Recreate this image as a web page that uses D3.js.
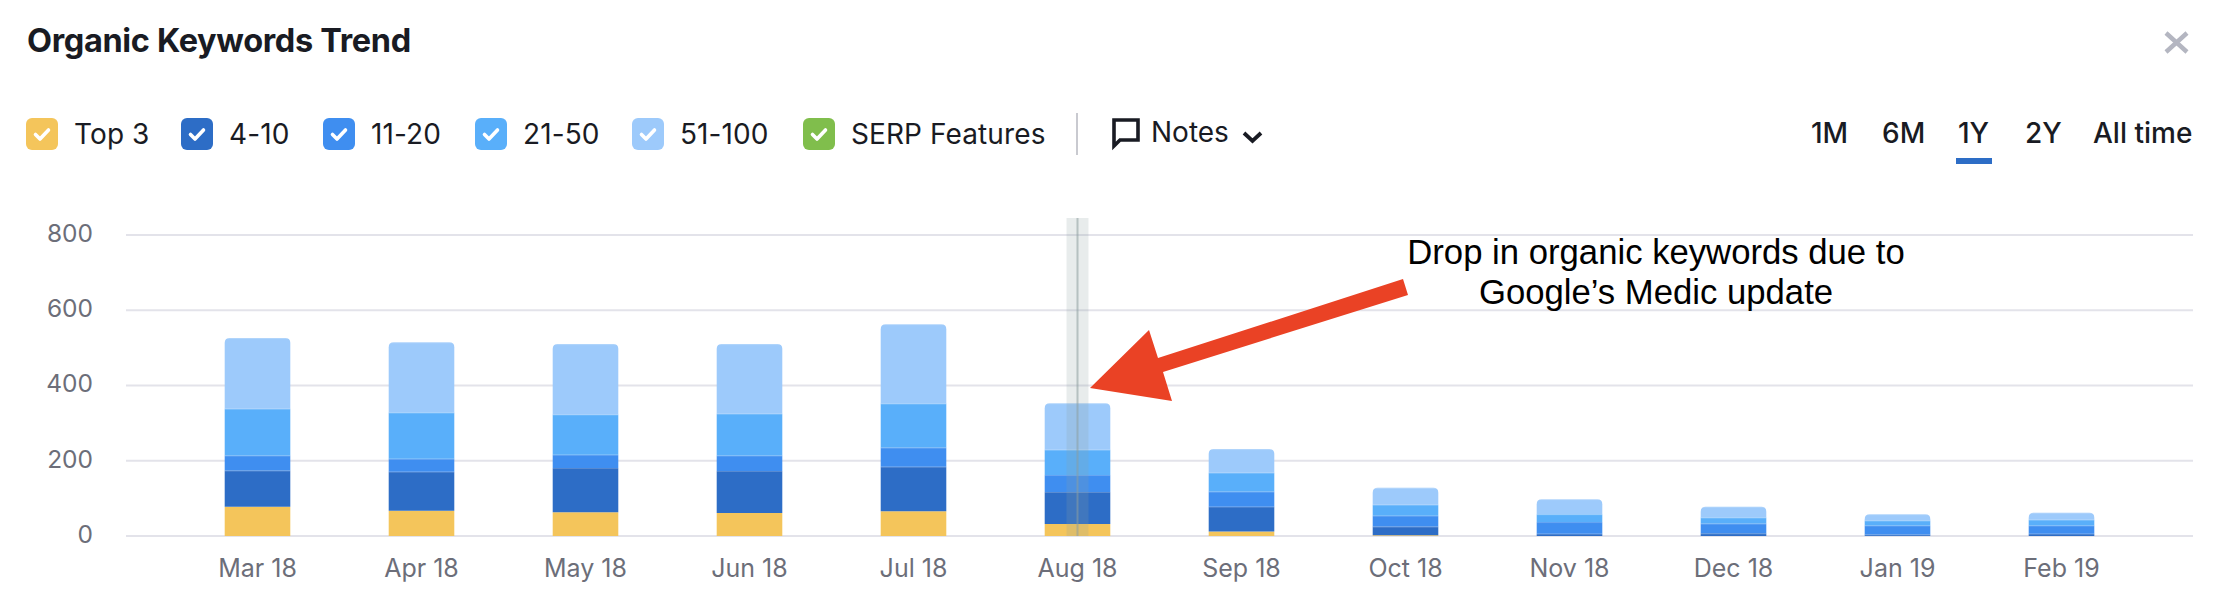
<!DOCTYPE html>
<html><head><meta charset="utf-8">
<script src="https://d3js.org/d3.v7.min.js"></script>
<style>
html,body{margin:0;padding:0;background:#fff}
svg{display:block}
text{font-family:Inter,"Noto Sans",sans-serif}
</style></head><body>
<svg id="c" width="2216" height="606"></svg>
<script>
const months = ["Mar 18","Apr 18","May 18","Jun 18","Jul 18","Aug 18","Sep 18","Oct 18","Nov 18","Dec 18","Jan 19","Feb 19"];
const top3     = [78,67,63,61,66,32,12,2,0,0,0,0];
const pos4to10 = [96,104,118,112,118,85,66,23,6,7,4,6];
const pos11to20= [40,34,35,41,51,45,40,29,31,26,24,22];
const pos21to50= [124,123,107,111,117,67,50,29,21,16,13,15];
const pos51to100=[188,187,187,185,211,124,63,45,40,29,17,19];
const yTicks = [0,200,400,600,800];
const legendLabels = ["Top 3","4-10","11-20","21-50","51-100","SERP Features"];
const legendColors = ["#F4C55B","#2D6DC6","#3F8EF0","#59AFFA","#9DCAFB","#80BE4C"];
const legendX = [26,181,323,475,632,803];
const periods = ["1M","6M","1Y","2Y","All time"];
const periodX = [1811,1882,1958,2025,2093];
const noteLines = ["Drop in organic keywords due to","Google\u2019s Medic update"];
const highlighted = "Aug 18";

const svg = d3.select("#c");
const x = d3.scaleBand().domain(months).range([175.5,2143.5]).paddingInner(0.6).paddingOuter(0.3);
const y = d3.scaleLinear().domain([0,800]).range([536,235]);

// header
svg.append("text").attr("x",27).attr("y",52).attr("font-size",32.5).attr("font-weight",700).attr("fill","#191b23").attr("letter-spacing",-0.35).text("Organic Keywords Trend");
svg.append("path").attr("d","M2166 33L2187 52M2187 33L2166 52").attr("stroke","#b4b6c1").attr("stroke-width",4.4).attr("fill","none");

// legend
const lg = svg.append("g").selectAll("g").data(legendLabels).join("g").attr("transform",(d,i)=>`translate(${legendX[i]},118)`);
lg.append("rect").attr("width",32).attr("height",32).attr("rx",6).attr("fill",(d,i)=>legendColors[i]);
lg.append("path").attr("d","M9.5 16.5L14 21L22.5 12").attr("fill","none").attr("stroke","#fff").attr("stroke-width",3.6).attr("stroke-linecap","round").attr("stroke-linejoin","round");
lg.append("text").attr("x",48).attr("y",25.5).attr("font-size",28).attr("fill","#191b23").attr("letter-spacing",0.1).text(d=>d);

svg.append("rect").attr("x",1076).attr("y",113).attr("width",2).attr("height",42).attr("fill","#c9cad0");
svg.append("path").attr("d","M1114 120H1138V140H1120L1114 146Z").attr("fill","none").attr("stroke","#191b23").attr("stroke-width",3.6).attr("stroke-linejoin","miter");
svg.append("text").attr("x",1151).attr("y",142).attr("font-size",28).attr("fill","#191b23").text("Notes");
svg.append("path").attr("d","M1244 133L1252.5 141L1261 133").attr("fill","none").attr("stroke","#191b23").attr("stroke-width",3.8);

svg.append("g").selectAll("text").data(periods).join("text").attr("x",(d,i)=>periodX[i]).attr("y",143).attr("font-size",28).attr("font-weight",500).attr("fill","#191b23").text(d=>d);
svg.append("rect").attr("x",1956).attr("y",158).attr("width",36).attr("height",6).attr("fill","#2D6DC6");

// grid + y axis
const yAxis = d3.axisLeft(y).tickValues(yTicks).tickSize(-2067).tickPadding(33);
const yg = svg.append("g").attr("transform","translate(126,-0.5)").call(yAxis);
yg.select(".domain").remove();
yg.selectAll("line").attr("stroke","#e3e3ea").attr("stroke-width",2);
yg.selectAll("text").attr("font-size",24.5).attr("fill","#6c6e79").attr("dy","0.28em").style("font-family","Inter");

// x axis
const xAxis = d3.axisBottom(x).tickSize(0).tickPadding(23);
const xg = svg.append("g").attr("transform","translate(0,536)").call(xAxis);
xg.select(".domain").remove();
xg.selectAll("text").attr("font-size",25).attr("fill","#6c6e79").style("font-family","Inter");

// stacked bars
const keys = ["a","b","c","d","e"];
const rows = months.map((m,i)=>({m,a:top3[i],b:pos4to10[i],c:pos11to20[i],d:pos21to50[i],e:pos51to100[i]}));
const stacked = d3.stack().keys(keys)(rows);
const colors = d3.scaleOrdinal().domain(keys).range(legendColors.slice(0,5));
const r = 5;
const layers = svg.append("g").selectAll("g").data(stacked).join("g").attr("fill",s=>colors(s.key));
layers.selectAll("path.seg").data(s=>s.map(p=>Object.assign(p,{key:s.key}))).join("path").attr("class","seg")
  .attr("d",p=>{
    const x0=x(p.data.m), w=x.bandwidth(), y0=y(p[1]), y1=y(p[0]);
    if(p.key==="e") return `M${x0} ${y1}V${y0+r}Q${x0} ${y0} ${x0+r} ${y0}H${x0+w-r}Q${x0+w} ${y0} ${x0+w} ${y0+r}V${y1}Z`;
    return `M${x0} ${y1}V${y0}H${x0+w}V${y1}Z`;
  });
// thin lighter seam on top of each segment
layers.selectAll("rect.seam").data(s=>s.filter(p=>p[1]>p[0]&&s.key!=="a")).join("rect").attr("class","seam")
  .attr("x",p=>x(p.data.m)).attr("width",x.bandwidth()).attr("y",p=>y(p[1])).attr("height",1)
  .attr("fill","#fff").attr("opacity",0.22);

// hover highlight
const cx = x(highlighted)+x.bandwidth()/2;
svg.append("rect").attr("x",cx-11).attr("y",218).attr("width",22).attr("height",y(0)-218).attr("fill","#8c9f9f").attr("opacity",0.2);
svg.append("rect").attr("x",cx-1).attr("y",218).attr("width",2).attr("height",y(0)-218).attr("fill","#8c9f9f").attr("opacity",0.55);

// annotation
svg.append("g").selectAll("text").data(noteLines).join("text").attr("x",1656).attr("y",(d,i)=>264+i*40)
  .attr("text-anchor","middle").attr("font-size",34.7).attr("fill","#000").style("font-family","'Liberation Sans'").text(d=>d);
const arrow = [[1403,279],[1408,295],[1163,372],[1172,401],[1090,388],[1149,330],[1158,358]];
svg.append("path").attr("d",d3.line()(arrow)+"Z").attr("fill","#EA4225");
</script>
</body></html>
